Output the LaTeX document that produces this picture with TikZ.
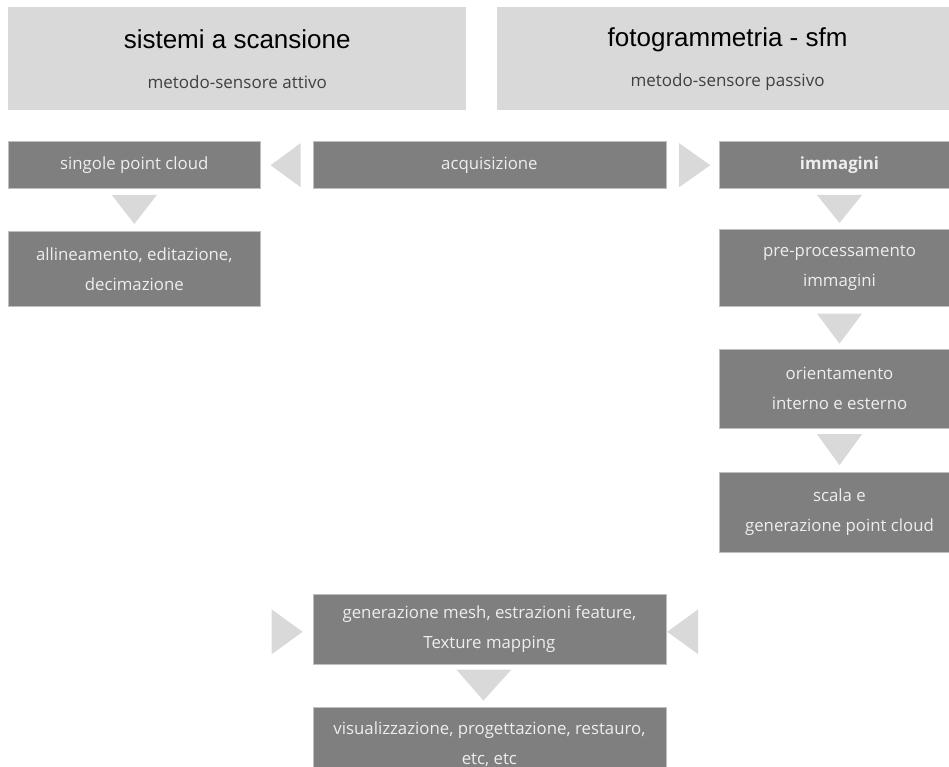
\documentclass[tikz,border=0pt]{standalone}
\usepackage{fontspec}
\setmainfont{Open Sans}
\newfontfamily\headfont{Liberation Sans}
\usetikzlibrary{positioning,calc}
\definecolor{boxgray}{HTML}{7F7F7F}
\definecolor{palegray}{HTML}{D9D9D9}
\definecolor{boxtext}{HTML}{EEEEEE}
\definecolor{boxedge}{HTML}{BFBFBF}
\definecolor{subtext}{HTML}{404040}

\begin{document}
\begin{tikzpicture}[x=1pt,y=1pt,node distance=40pt and 52pt,every node/.style={align=center,inner sep=0pt},head/.style={fill=palegray,minimum width=#1,minimum height=103pt,font=\fontsize{17}{40}\selectfont},stepbox/.style={fill=boxgray,draw=boxedge,line width=0.6pt,text=boxtext,font=\fontsize{16.8}{30}\selectfont,minimum width=#1},tri/.style={fill=palegray}]
\useasboundingbox (0,0) rectangle (949,-767);
\clip (0,0) rectangle (949,-767);
\node[head=458pt,anchor=north west] (scan) at (8,-7) {{\headfont\fontsize{26}{30}\selectfont sistemi a scansione}\\{\color{subtext}metodo-sensore attivo}};
\node[head=462pt,right=30pt of scan] (foto) {{\headfont\fontsize{26}{30}\selectfont fotogrammetria - sfm}\\{\color{subtext}metodo-sensore passivo}};
\node[stepbox=252pt,minimum height=47pt,below=31pt of scan.south west,anchor=north west] (cloud) {singole point cloud};
\node[stepbox=353pt,minimum height=47pt,right=52pt of cloud] (acq) {acquisizione};
\node[stepbox=240pt,minimum height=47pt,right=53pt of acq] (img) {\bfseries immagini};
\node[stepbox=252pt,minimum height=75pt,below=42pt of cloud] (allin) {allineamento, editazione,\\decimazione};
\node[stepbox=240pt,minimum height=77pt,below=40pt of img] (pre) {pre-processamento\\immagini};
\node[stepbox=240pt,minimum height=79pt,below=42pt of pre] (orient) {orientamento\\interno e esterno};
\node[stepbox=240pt,minimum height=80pt,below=44pt of orient] (scala) {scala e\\generazione point cloud};
\node[stepbox=353pt,minimum height=70pt,below=405pt of acq] (gen) {generazione mesh, estrazioni feature,\\Texture mapping};
\node[stepbox=353pt,minimum height=75pt,below=42pt of gen] (vis) {visualizzazione, progettazione, restauro,\\etc, etc};
\coordinate[left=41pt of gen] (scanin);
\coordinate[right=32pt of gen] (fotoin);
% acquisizione splits both ways
\fill[tri] ($(acq.west)+(-12,22)$) -- ($(acq.west)+(-12,-22)$) -- ($(cloud.east)+(10,0)$) -- cycle;
\fill[tri] ($(acq.east)+(13,22)$) -- ($(acq.east)+(13,-22)$) -- ($(img.west)+(-9,0)$) -- cycle;
% down steps
\fill[tri] ($(cloud.south)+(-22.5,-6)$) -- ($(cloud.south)+(22.5,-6)$) -- ($(allin.north)+(0,7)$) -- cycle;
\fill[tri] ($(img.south)+(-22.5,-6)$) -- ($(img.south)+(22.5,-6)$) -- ($(pre.north)+(0,6)$) -- cycle;
\fill[tri] ($(pre.south)+(-22.5,-7)$) -- ($(pre.south)+(22.5,-7)$) -- ($(orient.north)+(0,5)$) -- cycle;
\fill[tri] ($(orient.south)+(-22.5,-6)$) -- ($(orient.south)+(22.5,-6)$) -- ($(scala.north)+(0,7)$) -- cycle;
\fill[tri] ($(gen.south)+(-33,-5)$) -- ($(gen.south)+(22,-5)$) -- ($(vis.north)+(-6,6)$) -- cycle;
% both branches merge
\fill[tri] ($(scanin)+(0,20)$) -- ($(scanin)+(0,-25)$) -- ($(gen.west)+(-10,-2.5)$) -- cycle;
\fill[tri] ($(fotoin)+(0,20)$) -- ($(fotoin)+(0,-25)$) -- ($(gen.east)+(1,-2.5)$) -- cycle;
\end{tikzpicture}
\end{document}
